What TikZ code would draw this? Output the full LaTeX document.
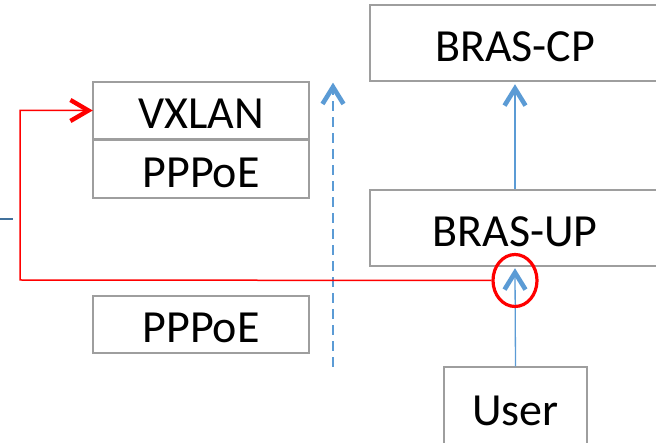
\documentclass[tikz,border=0pt]{standalone}
\usepackage{fontspec}
\setmainfont{Carlito}
\usetikzlibrary{shapes.geometric}
\definecolor{lblue}{HTML}{5B9BD5}
\definecolor{dblue}{HTML}{41719C}
\definecolor{boxgray}{HTML}{9E9E9E}
\definecolor{myred}{HTML}{FF0000}
\tikzset{
  x=1pt, y=-1pt,
  box/.style={draw=boxgray, line width=1.2pt, rectangle, inner sep=0pt,
    font=\fontsize{46}{55}\selectfont, text height=40pt, text depth=3pt},
  blueline/.style={draw=lblue, line width=1.3pt},
  redline/.style={draw=myred, line width=1.5pt},
  dashline/.style={draw=lblue, line width=1.5pt, dash pattern=on 10pt off 6pt},
  bluechev/.style={draw=lblue, line width=4.6pt, line join=miter, line cap=butt},
  redchev/.style={draw=myred, line width=4.4pt, line join=miter, line cap=butt},
}
\begin{document}
\begin{tikzpicture}
\useasboundingbox (0,0) rectangle (656,443);
\begin{scope}
\clip (0,0) rectangle (656,443);
\node[box, minimum width=290pt, minimum height=76pt] (cp) at (515,43) {BRAS-CP};
\node[box, minimum width=290pt, minimum height=76pt] (up) at (515,228) {BRAS-UP};
\node[box, minimum width=216pt, minimum height=57pt] (vx) at (201,110.5) {VXLAN};
\node[box, minimum width=216pt, minimum height=58pt] (pp1) at (201,169) {PPPoE};
\node[box, minimum width=216pt, minimum height=57pt] (pp2) at (201,324.5) {PPPoE};
\node[box, minimum width=143pt, minimum height=80pt] (user) at (515.5,407) {User};
\end{scope}
% blue arrows
\coordinate (tcp) at ([yshift=-7pt]cp.south);
\coordinate (tup) at ([yshift=-6pt]up.south);
\draw[blueline] (up.north) -- (tcp);
\draw[bluechev] (tcp) ++(-10.5,17) -- (tcp) -- ++(10.5,17);
\draw[blueline] (user.north) -- (tup);
\draw[bluechev] (tup) ++(-10.5,17) -- (tup) -- ++(10.5,17);
% dashed arrow
\coordinate (db) at (333,367);
\coordinate (dt) at (333,87);
\draw[dashline] (db) -- (dt);
\draw[bluechev] (dt) ++(-10.5,17) -- (dt) -- ++(10.5,17);
% red ellipse and path
\node[ellipse, draw=myred, line width=3.2pt, minimum width=44pt, minimum height=52pt, inner sep=0pt] (circ) at (515,280.5) {};
\coordinate (rc) at (20,280);
\coordinate (rt) at ([xshift=-4pt]vx.west);
\draw[redline] (circ.west) -- (rc) |- (rt);
\draw[redchev] (rt) ++(-18,-10.5) -- (rt) -- ++(-18,10.5);
% small blue tick
\coordinate (t1) at (0,219);
\coordinate (t2) at (13,219);
\draw[dblue, line width=2pt] (t1) -- (t2);
\end{tikzpicture}
\end{document}
